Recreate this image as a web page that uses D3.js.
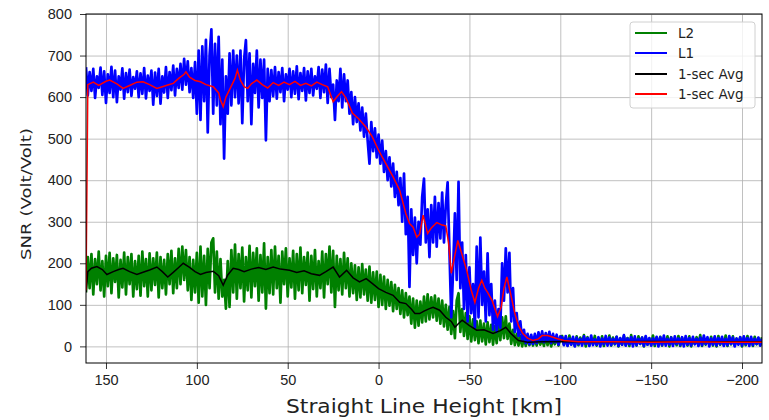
<!DOCTYPE html>
<html>
<head>
<meta charset="utf-8">
<script src="https://cdn.jsdelivr.net/npm/d3@7"></script>
<style>
  body { margin: 0; background: #fff; }
  svg { font-family: "DejaVu Sans", sans-serif; }
  .grid line { stroke: #b0b0b0; stroke-width: 0.8; }
  .grid path { display: none; }
  .axis path { display: none; }
  .axis line { stroke: #000; stroke-width: 0.8; }
  .axis text { fill: #222; font-size: 14.5px; }
</style>
</head>
<body>
<svg id="chart"></svg>
<script>
// ------------------- Data -------------------
// raw samples are 1 km apart, starting at the left edge of the plot
const rawStartHeight = 161;

const l1Raw = [
  // 161 .. 101
  672,604,660,615,668,598,650,622,671,605,
  662,586,655,610,673,600,664,588,650,618,
  669,596,658,612,666,603,648,620,662,600,
  657,608,670,597,652,615,664,582,659,603,
  668,584,650,611,672,598,660,617,676,604,
  668,622,680,618,692,630,686,612,670,598,
  684,
  // 100 .. 60
  560,712,545,722,590,738,515,700,763,560,
  728,580,745,535,690,452,650,560,705,580,
  712,600,700,585,712,537,690,737,590,705,
  535,680,610,712,575,690,598,690,496,668,
  590,
  // 59 .. 26
  665,602,672,596,660,612,670,590,655,618,
  668,600,662,608,674,595,658,615,670,592,
  662,610,668,604,650,620,672,598,666,612,
  678,586,668,600,
  // 25 .. -10
  630,545,640,590,668,575,655,590,640,560,
  612,535,600,540,585,520,575,505,560,495,
  440,540,470,525,455,510,440,495,420,470,
  400,455,385,440,360,420,
  // -11 .. -85
  340,405,300,416,270,360,143,330,220,310,
  200,300,245,360,404,250,330,215,340,250,
  360,240,345,260,370,250,340,395,230,70,
  180,320,160,396,140,250,90,220,60,190,
  80,150,45,240,70,262,100,180,60,224,
  75,150,40,110,35,90,45,200,110,236,
  130,225,60,140,35,80,25,60,15,40,
  8,30,5,28,6,
  // -86 .. -100
  30,8,34,12,36,10,32,14,35,8,30,10,28,4,24,
  // -101 .. -211
  22,3,25,1,19,4,23,0,21,5,
  18,2,24,6,20,1,26,3,17,4,
  22,0,19,5,25,2,21,3,18,6,
  23,1,20,4,27,2,19,5,22,0,
  24,3,18,6,21,1,25,4,20,2,
  19,5,23,0,22,3,26,2,18,4,
  21,1,24,6,19,3,22,0,25,4,
  20,2,23,5,18,1,21,3,26,6,
  22,0,19,4,24,2,20,5,23,1,
  18,3,25,6,21,0,19,4,22,2,
  24,5,20,1,23,3,18,6,21,2,19
];

const l2Raw = [
  // 161 .. 101
  130,215,140,222,125,210,150,228,135,205,
  120,218,145,225,128,212,155,220,118,208,
  142,226,125,215,150,222,120,205,138,218,
  122,228,145,210,120,224,135,212,148,226,
  118,215,140,208,125,222,150,230,128,212,
  140,235,150,240,160,232,135,215,112,208,
  130,
  // 100 .. 60
  225,105,240,120,218,100,235,140,250,260,
  130,228,115,210,120,160,91,205,95,232,
  130,245,115,222,140,238,108,215,135,242,
  118,225,145,236,110,220,130,248,91,215,
  128,
  // 59 .. 26
  232,125,240,140,218,105,228,150,236,120,
  212,142,230,115,222,135,238,128,215,148,
  226,110,218,138,232,120,205,140,228,118,
  222,150,240,130,
  // 25 .. -10
  230,95,218,135,210,125,225,140,212,120,
  200,128,195,112,190,118,198,125,185,110,
  192,105,178,112,180,95,172,100,168,90,
  160,98,155,85,148,90,
  // -11 .. -85
  140,78,135,70,128,75,120,55,115,45,
  110,50,108,58,120,60,125,65,118,70,
  122,62,115,55,110,48,100,40,95,30,
  85,20,110,128,35,90,25,80,18,72,
  12,65,15,60,8,62,12,55,5,58,
  10,52,4,48,8,60,15,70,20,72,
  18,55,6,40,3,30,2,25,0,22,
  1,20,3,18,2,
  // -86 .. -100
  20,2,22,4,18,1,24,3,21,0,19,5,23,2,20,
  // -101 .. -211
  25,4,20,2,26,5,19,1,24,3,
  21,6,27,0,22,3,18,5,25,2,
  20,4,24,1,19,6,26,2,21,5,
  23,0,18,4,25,3,20,1,27,5,
  19,2,24,6,21,0,22,4,18,3,
  26,1,20,5,23,2,19,6,24,0,
  22,4,18,3,25,1,21,5,20,2,
  24,0,19,6,22,3,27,1,20,4,
  18,5,23,2,21,0,25,4,19,3,
  26,1,20,5,24,2,18,6,22,0,
  21,3,25,4,19,1,23,5,20,2,22
];

// 1-sec averages (red = L1, black = L2)
const l1AvgHeights = [161,160,157,154,150,148,144,140.6,137,133,129.6,126,122,119,116,113,110,107,106,104,
  101,98,95,91,88,87,85.5,84,82,79,77.7,76,74,72,70,67,64,61,58,55,52,49,46,43,40,37,34,31,28,25,
  23,20.4,18,14.3,11,7,3.5,0,-4,-8,-11.6,-15,-17,-19,-21,-22.6,-24.5,-27,-29,-32,
  -35,-37,-38.5,-40,-42,-43.6,-46,-48.5,-51,-53,-55,-56.8,-58.5,-60,-62.5,-65.5,-67.5,-69,-70.6,-72.5,
  -75,-77,-79.4,-82,-85,-88,-90,-93,-96,-98,-102,-110,-130,-150,-170,-190,-211];
const l1AvgValues = [135,630,636,628,638,641,632,621,628,636,637,630,621,625,629,633,645,655,661,648,
  640,637,630,625,610,593,577,600,618,645,665,640,625,621,632,641,630,622,635,628,636,630,638,628,633,627,636,630,625,589,
  600,613,598,561,548,528,505,472,440,408,376,320,296,287,263,270,316,272,285,298,
  292,290,250,176,220,255,220,183,135,106,140,159,140,130,110,72,95,140,167,130,
  79,50,31,20,14,18,26,26,22,19,14,11,11,10,11,10,10];

const l2AvgHeights = [161,160,158,155,152,149.5,146,143,140.6,137,133,130,126,122,119,116,113,110,107.5,104,
  101,98,95,91,88,85.5,83,80,77,74,70,66,62,58,54,49,45,41,37,32.5,
  29,25,21.5,17.6,14,10.5,6.8,3,0,-4,-8,-11.6,-15,-18,-20,-22.6,-25,-28,-30,-33.6,
  -37,-40,-42,-44,-46,-50,-54,-58,-63,-67,-70,-73,-77,-82,-90,-100,-120,-150,-180,-211];
const l2AvgValues = [130,180,188,192,185,173,180,185,188,180,173,178,184,191,180,167,178,190,200,190,
  180,173,178,181,170,147,172,188,185,180,186,190,185,191,186,183,178,182,175,171,
  180,191,167,183,165,155,163,150,139,130,123,106,103,90,79,79,85,91,94,87,
  70,60,46,55,63,50,39,40,31,38,46,30,14,10,11,12,11,12,11,11];

const xTicks = [150, 100, 50, 0, -50, -100, -150, -200];
const yTicks = [0, 100, 200, 300, 400, 500, 600, 700, 800];

// ------------------- Setup -------------------
const width = 769, height = 420;
const margin = { top: 14, right: 7, bottom: 57, left: 86 };

const svg = d3.select("#chart")
  .attr("width", width)
  .attr("height", height);

const x = d3.scaleLinear().domain([161, -211]).range([margin.left, width - margin.right]);
const y = d3.scaleLinear().domain([-40, 800]).range([height - margin.bottom, margin.top]);

svg.append("defs").append("clipPath").attr("id", "plot-clip")
  .append("rect")
    .attr("x", margin.left).attr("y", margin.top)
    .attr("width", width - margin.left - margin.right)
    .attr("height", height - margin.top - margin.bottom);

// grid
svg.append("g").attr("class", "grid")
  .attr("transform", `translate(0,${margin.top})`)
  .call(d3.axisBottom(x).tickValues(xTicks).tickSize(height - margin.top - margin.bottom).tickFormat(""));
svg.append("g").attr("class", "grid")
  .attr("transform", `translate(${width - margin.right},0)`)
  .call(d3.axisLeft(y).tickValues(yTicks).tickSize(width - margin.left - margin.right).tickFormat(""));

// ------------------- Lines -------------------
const plot = svg.append("g").attr("clip-path", "url(#plot-clip)");

const rawLine = d3.line().x((d, i) => x(rawStartHeight - i)).y(d => y(d));
const avgLine = d3.line().x(d => x(d[0])).y(d => y(d[1]));

plot.append("path").datum(l2Raw)
  .attr("d", rawLine).attr("fill", "none")
  .attr("stroke", "#008000").attr("stroke-width", 2.7).attr("stroke-linejoin", "round");

plot.append("path").datum(l1Raw)
  .attr("d", rawLine).attr("fill", "none")
  .attr("stroke", "#0000ff").attr("stroke-width", 2.7).attr("stroke-linejoin", "round");

plot.append("path").datum(d3.zip(l2AvgHeights, l2AvgValues))
  .attr("d", avgLine).attr("fill", "none")
  .attr("stroke", "#000").attr("stroke-width", 1.5);

plot.append("path").datum(d3.zip(l1AvgHeights, l1AvgValues))
  .attr("d", avgLine).attr("fill", "none")
  .attr("stroke", "#ff0000").attr("stroke-width", 1.5);

// ------------------- Axes -------------------
svg.append("g").attr("class", "axis")
  .attr("transform", `translate(0,${height - margin.bottom})`)
  .call(d3.axisBottom(x).tickValues(xTicks).tickSize(6).tickPadding(6));

svg.append("g").attr("class", "axis")
  .attr("transform", `translate(${margin.left},0)`)
  .call(d3.axisLeft(y).tickValues(yTicks).tickSize(6).tickPadding(8));

// frame
svg.append("rect")
  .attr("x", margin.left).attr("y", margin.top)
  .attr("width", width - margin.left - margin.right)
  .attr("height", height - margin.top - margin.bottom)
  .attr("fill", "none").attr("stroke", "#000").attr("stroke-width", 1);

// axis titles
svg.append("text")
  .attr("x", (margin.left + width - margin.right) / 2)
  .attr("y", 413)
  .attr("text-anchor", "middle")
  .attr("font-size", "19px")
  .attr("fill", "#222")
  .attr("textLength", 276)
  .attr("lengthAdjust", "spacingAndGlyphs")
  .text("Straight Line Height [km]");

svg.append("text")
  .attr("transform", "translate(31,194) rotate(-90)")
  .attr("text-anchor", "middle")
  .attr("font-size", "14.5px")
  .attr("fill", "#222")
  .attr("textLength", 132)
  .attr("lengthAdjust", "spacingAndGlyphs")
  .text("SNR (Volt/Volt)");

// ------------------- Legend -------------------
const legendData = [
  { label: "L2", color: "#008000" },
  { label: "L1", color: "#0000ff" },
  { label: "1-sec Avg", color: "#000" },
  { label: "1-sec Avg", color: "#ff0000" }
];
const legendRows = [33, 53, 74, 94];

const legend = svg.append("g").attr("class", "legend");
legend.append("rect")
  .attr("x", 630).attr("y", 22).attr("width", 125).attr("height", 86)
  .attr("rx", 3)
  .attr("fill", "#fff").attr("fill-opacity", 0.8)
  .attr("stroke", "#d0d0d0");

legend.selectAll("line")
  .data(legendData)
  .enter()
  .append("line")
    .attr("x1", 635).attr("x2", 667)
    .attr("y1", (d, i) => legendRows[i]).attr("y2", (d, i) => legendRows[i])
    .attr("stroke", d => d.color)
    .attr("stroke-width", 2);

legend.selectAll("text")
  .data(legendData)
  .enter()
  .append("text")
    .attr("x", 678)
    .attr("y", (d, i) => legendRows[i])
    .attr("dy", "0.36em")
    .attr("font-size", "13.5px")
    .attr("fill", "#222")
    .text(d => d.label);
</script>
</body>
</html>
